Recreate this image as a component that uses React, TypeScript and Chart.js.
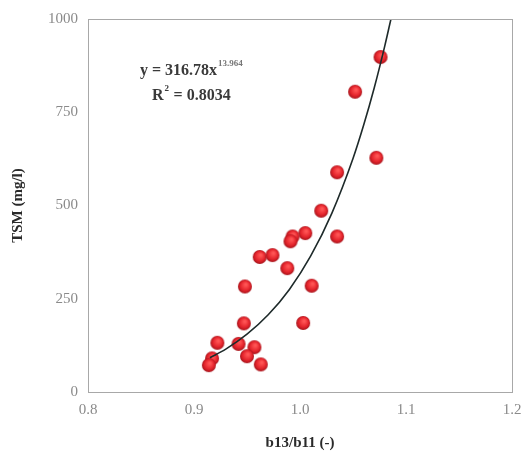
import React, { useEffect, useRef } from "react";
import { Chart, registerables } from "chart.js";

Chart.register(...registerables);

// Observed samples
const ratioX: number[] = [1.076, 1.052, 1.072, 1.035, 1.02, 1.005, 1.035, 0.993, 0.991, 0.962, 0.974, 0.988, 0.948, 1.011, 0.947, 1.003, 0.922, 0.942, 0.957, 0.95, 0.963, 0.917, 0.914];
const tsmY: number[] = [898, 805, 628, 589, 486, 426, 417, 417, 404, 362, 367, 332, 283, 285, 184, 185, 132, 129, 120, 96, 74, 90, 72];

// Power trendline
const fitX: number[] = [0.915, 0.93, 0.95, 0.97, 0.99, 1.01, 1.03, 1.05, 1.06, 1.07, 1.08, 1.0858];
const fitY: number[] = [92, 115, 155, 207, 275, 364, 479, 626, 715, 815, 928, 1000];

const xTickValues: number[] = [0.8, 0.9, 1.0, 1.1, 1.2];
const yTickValues: number[] = [0, 250, 500, 750, 1000];

const equationText = "y = 316.78x";
const exponentText = "13.964";
const r2Label = "R";
const r2Value = " = 0.8034";

const xTitle = "b13/b11 (-)";
const yTitle = "TSM (mg/l)";

function makeBall(): HTMLCanvasElement {
  const c = document.createElement("canvas");
  const s = 16;
  c.width = s;
  c.height = s;
  const g = c.getContext("2d")!;
  const grad = g.createRadialGradient(9, 6, 1, 8, 8, 7.5);
  grad.addColorStop(0, "#ff5454");
  grad.addColorStop(0.6, "#e3232b");
  grad.addColorStop(1, "#9a1219");
  g.fillStyle = grad;
  g.beginPath();
  g.arc(8, 8, 7, 0, Math.PI * 2);
  g.fill();
  return c;
}

const frameAndText = {
  id: "frameAndText",
  afterDatasetsDraw(chart: any) {
    const { ctx, chartArea } = chart;
    ctx.save();
    ctx.strokeStyle = "#a8a8a8";
    ctx.lineWidth = 1;
    ctx.strokeRect(chartArea.left + 0.5, chartArea.top + 0.5, chartArea.right - chartArea.left, chartArea.bottom - chartArea.top);

    const fam = "'Liberation Serif', 'Times New Roman', serif";
    ctx.fillStyle = "#3a3a3a";
    ctx.textBaseline = "middle";
    ctx.textAlign = "left";
    const x0 = chartArea.left + 52;
    const y0 = chartArea.top + 52;
    ctx.font = `bold 16px ${fam}`;
    ctx.fillText(equationText, x0, y0);
    const w = ctx.measureText(equationText).width;
    ctx.font = `bold 9px ${fam}`;
    ctx.fillStyle = "#777";
    ctx.fillText(exponentText, x0 + w + 1, y0 - 7);

    ctx.fillStyle = "#3a3a3a";
    const x1 = chartArea.left + 64;
    const y1 = chartArea.top + 77;
    ctx.font = `bold 16px ${fam}`;
    ctx.fillText(r2Label, x1, y1);
    const wr = ctx.measureText(r2Label).width;
    ctx.font = `bold 9px ${fam}`;
    ctx.fillText("2", x1 + wr + 1, y1 - 7);
    ctx.font = `bold 16px ${fam}`;
    ctx.fillText(r2Value, x1 + wr + 6, y1);
    ctx.restore();
  },
};

export default function App() {
  const ref = useRef<HTMLCanvasElement | null>(null);

  useEffect(() => {
    if (!ref.current) return;
    const ball = makeBall();
    const fam = "'Liberation Serif', 'Times New Roman', serif";
    const chart = new Chart(ref.current, {
      type: "scatter",
      data: {
        datasets: [
          {
            label: "fit",
            data: fitX.map((x, i) => ({ x, y: fitY[i] })),
            showLine: true,
            borderColor: "#1e2a2a",
            borderWidth: 1.6,
            pointRadius: 0,
            tension: 0.4,
            cubicInterpolationMode: "monotone",
            order: 0,
          } as any,
          {
            label: "TSM",
            data: ratioX.map((x, i) => ({ x, y: tsmY[i] })),
            pointStyle: ball as any,
            pointRadius: 7,
            order: 1,
          },
        ],
      },
      options: {
        animation: false,
        responsive: false,
        maintainAspectRatio: false,
        layout: { padding: { left: 0, right: 19, top: 16, bottom: 0 } },
        plugins: { legend: { display: false }, tooltip: { enabled: false } },
        scales: {
          x: {
            type: "linear",
            min: 0.8,
            max: 1.2,
            afterFit: (s: any) => {
              s.height = 63;
            },
            afterBuildTicks: (s: any) => {
              s.ticks = xTickValues.map((v) => ({ value: v }));
            },
            ticks: {
              padding: 9,
              color: "#8a8a8a",
              font: { family: fam, size: 15 },
              callback: (v: any) => Number(v).toFixed(1),
            },
            grid: { display: false, drawTicks: false },
            border: { display: false },
            title: {
              display: true,
              text: xTitle,
              color: "#2a2a2a",
              font: { family: fam, size: 15, weight: "bold" },
              padding: { top: 0, bottom: 3 },
            },
          },
          y: {
            type: "linear",
            min: 0,
            max: 1000,
            afterFit: (s: any) => {
              s.width = 88;
            },
            afterBuildTicks: (s: any) => {
              s.ticks = yTickValues.map((v) => ({ value: v }));
            },
            ticks: {
              padding: 10,
              color: "#8a8a8a",
              font: { family: fam, size: 15 },
              callback: (v: any) => String(v),
            },
            grid: { display: false, drawTicks: false },
            border: { display: false },
            title: {
              display: true,
              text: yTitle,
              color: "#2a2a2a",
              font: { family: fam, size: 15, weight: "bold" },
              padding: { top: 9, bottom: 0 },
            },
          },
        },
      } as any,
      plugins: [frameAndText],
    });
    return () => chart.destroy();
  }, []);

  return (
    <div style={{ position: "fixed", left: 0, top: 0, width: 531, height: 455, background: "#fff" }}>
      <canvas ref={ref} width={531} height={455} style={{ display: "block", width: 531, height: 455 }} />
    </div>
  );
}
